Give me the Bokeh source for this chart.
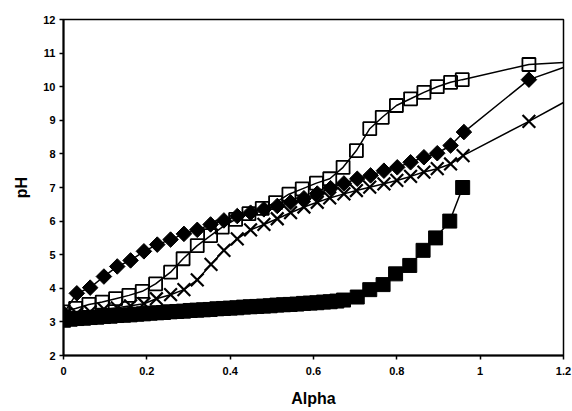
from bokeh.plotting import figure
from bokeh.models import Range1d, FixedTicker, CustomJSTickFormatter
from bokeh.embed import file_html
from bokeh.resources import INLINE

# ---- data ----
diamond_alpha = [0.000, 0.032, 0.064, 0.097, 0.129, 0.161, 0.193, 0.225, 0.257, 0.289,
                 0.321, 0.353, 0.385, 0.417, 0.449, 0.481, 0.513, 0.545, 0.577, 0.609,
                 0.641, 0.673, 0.705, 0.737, 0.769, 0.801, 0.833, 0.865, 0.897, 0.929,
                 0.961, 1.117]
diamond_ph = [3.25, 3.85, 4.02, 4.35, 4.65, 4.83, 5.10, 5.30, 5.45, 5.62,
              5.74, 5.90, 6.02, 6.15, 6.25, 6.35, 6.45, 6.56, 6.68, 6.82,
              6.98, 7.12, 7.26, 7.36, 7.50, 7.60, 7.75, 7.90, 8.02, 8.25,
              8.65, 10.21]

open_sq_alpha = [0.000, 0.029, 0.061, 0.093, 0.125, 0.157, 0.189, 0.221, 0.257, 0.287,
                 0.321, 0.353, 0.381, 0.413, 0.445, 0.477, 0.509, 0.541, 0.573, 0.607,
                 0.639, 0.671, 0.703, 0.735, 0.765, 0.799, 0.833, 0.865, 0.897, 0.929,
                 0.957, 1.117]
open_sq_ph = [3.30, 3.40, 3.52, 3.59, 3.69, 3.79, 3.91, 4.13, 4.48, 4.88,
              5.27, 5.57, 5.82, 6.05, 6.22, 6.38, 6.55, 6.80, 6.96, 7.13,
              7.26, 7.60, 8.10, 8.75, 9.09, 9.44, 9.64, 9.83, 10.00, 10.13,
              10.21, 10.66]

cross_alpha = [0.000, 0.032, 0.064, 0.097, 0.129, 0.161, 0.193, 0.223, 0.257, 0.289,
               0.321, 0.354, 0.385, 0.417, 0.449, 0.481, 0.513, 0.545, 0.577, 0.609,
               0.639, 0.673, 0.703, 0.735, 0.769, 0.800, 0.833, 0.865, 0.897, 0.929,
               0.959, 1.117]
cross_ph = [3.15, 3.25, 3.30, 3.38, 3.42, 3.48, 3.54, 3.69, 3.81, 3.96,
            4.25, 4.71, 5.13, 5.47, 5.74, 5.90, 6.07, 6.25, 6.42, 6.56,
            6.69, 6.81, 6.91, 7.01, 7.11, 7.21, 7.33, 7.46, 7.56, 7.70,
            7.95, 8.97]

filled_sq_alpha = [0.000, 0.016, 0.032, 0.048, 0.064, 0.080, 0.096, 0.112, 0.128, 0.144,
                   0.160, 0.176, 0.192, 0.208, 0.224, 0.240, 0.256, 0.272, 0.288, 0.304,
                   0.320, 0.336, 0.352, 0.368, 0.384, 0.400, 0.416, 0.432, 0.448, 0.464,
                   0.480, 0.496, 0.512, 0.528, 0.544, 0.560, 0.576, 0.592, 0.608, 0.624,
                   0.640, 0.656, 0.672, 0.705, 0.735, 0.767, 0.797, 0.831, 0.863, 0.893,
                   0.927, 0.958]
filled_sq_ph = [3.05, 3.08, 3.10, 3.11, 3.13, 3.14, 3.16, 3.17, 3.19, 3.20,
                3.21, 3.23, 3.24, 3.26, 3.27, 3.28, 3.30, 3.31, 3.32, 3.34,
                3.35, 3.36, 3.37, 3.39, 3.40, 3.41, 3.42, 3.44, 3.45, 3.46,
                3.47, 3.48, 3.50, 3.51, 3.52, 3.53, 3.55, 3.56, 3.57, 3.59,
                3.60, 3.62, 3.65, 3.74, 3.96, 4.11, 4.43, 4.68, 5.13, 5.50,
                6.00, 7.00]

# fitted curves continue to the right edge of the plot
curve_end_alpha = 1.2
open_sq_curve_end = 10.72
diamond_curve_end = 10.57
cross_curve_end = 9.53

x_ticks = [0, 0.2, 0.4, 0.6, 0.8, 1.0, 1.2]
y_ticks = [2, 3, 4, 5, 6, 7, 8, 9, 10, 11, 12]

FONT = "Liberation Sans"

p = figure(width=572, height=411, output_backend="svg", toolbar_location=None,
           x_range=Range1d(0, 1.2), y_range=Range1d(2, 12))
p.min_border_left = 63
p.min_border_right = 9
p.min_border_top = 19
p.min_border_bottom = 56
p.background_fill_color = "white"
p.border_fill_color = "white"
p.outline_line_color = "black"
p.outline_line_width = 1.5
p.grid.visible = False

for ax in (p.xaxis[0], p.yaxis[0]):
    ax.axis_line_color = "black"
    ax.axis_line_width = 2
    ax.major_tick_in = 0
    ax.major_tick_out = 4
    ax.major_tick_line_width = 1.5
    ax.minor_tick_line_color = None
    ax.major_label_text_font = FONT
    ax.major_label_text_font_size = "11px"
    ax.major_label_text_font_style = "bold"
    ax.major_label_text_color = "black"
    ax.axis_label_text_font = FONT
    ax.axis_label_text_font_size = "16px"
    ax.axis_label_text_font_style = "bold"
    ax.axis_label_text_color = "black"

p.xaxis.ticker = FixedTicker(ticks=x_ticks)
p.yaxis.ticker = FixedTicker(ticks=y_ticks)
p.xaxis.formatter = CustomJSTickFormatter(code="return String(Math.round(tick*10)/10)")
p.xaxis.axis_label = "Alpha"
p.yaxis.axis_label = "pH"
p.xaxis.major_label_standoff = 7
p.xaxis.axis_label_standoff = 12
p.yaxis.major_label_standoff = 4
p.yaxis.axis_label_standoff = 10

# lines
p.line(open_sq_alpha + [curve_end_alpha], open_sq_ph + [open_sq_curve_end],
       line_color="black", line_width=1.5)
p.line(diamond_alpha + [curve_end_alpha], diamond_ph + [diamond_curve_end],
       line_color="black", line_width=1.5)
p.line(cross_alpha + [curve_end_alpha], cross_ph + [cross_curve_end],
       line_color="black", line_width=1.5)
p.line(filled_sq_alpha, filled_sq_ph, line_color="black", line_width=1.5)

# markers
p.scatter(filled_sq_alpha, filled_sq_ph, marker="square", size=14,
          fill_color="black", line_color="black")
p.scatter(cross_alpha, cross_ph, marker="x", size=18,
          line_color="black", line_width=2.2)
p.scatter(diamond_alpha, diamond_ph, marker="square", angle=0.785398, size=11,
          fill_color="black", line_color="black")
p.scatter(open_sq_alpha, open_sq_ph, marker="square", size=13,
          fill_color=None, line_color="black", line_width=1.8)

open("out.html", "w").write(file_html(p, INLINE))
